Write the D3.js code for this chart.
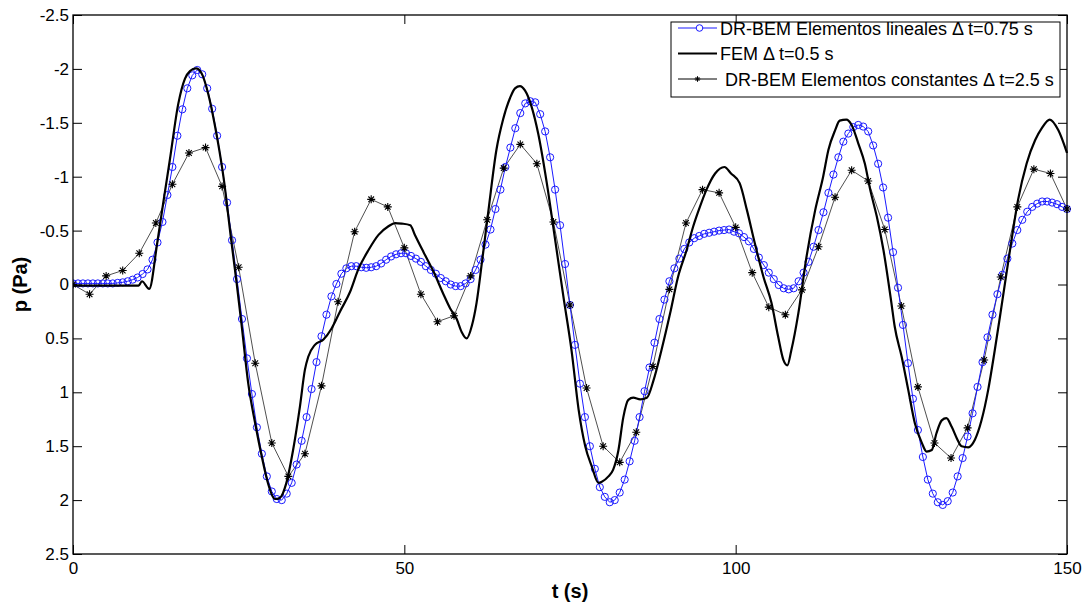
<!DOCTYPE html>
<html>
<head>
<meta charset="utf-8">
<script src="https://cdn.jsdelivr.net/npm/d3@7"></script>
<style>
  html, body { margin: 0; padding: 0; background: #ffffff; }
  svg { display: block; }
</style>
</head>
<body>
<div id="chart"></div>
<script>
// ---------------- DATA ----------------
const xTicks = [0, 50, 100, 150];
const yTicks = [-2.5, -2, -1.5, -1, -0.5, 0, 0.5, 1, 1.5, 2, 2.5];

const legendLabels = [
  "DR-BEM Elementos lineales \u0394 t=0.75 s",
  "FEM \u0394 t=0.5 s",
  " DR-BEM Elementos constantes \u0394 t=2.5 s"
];

// DR-BEM linear elements, sampled every 0.75 s (t = 0 ... 150)
const blueDt = 0.75;
const blueP = [
  -0.01, -0.01, -0.01, -0.01, -0.01, -0.01, -0.01, -0.01, -0.01, -0.015,
  -0.02, -0.03, -0.045, -0.065, -0.097, -0.14, -0.23, -0.39, -0.58, -0.83,
  -1.09, -1.38, -1.625, -1.82, -1.94, -1.99, -1.95, -1.82, -1.63, -1.38,
  -1.09, -0.76, -0.41, -0.05, 0.32, 0.685, 1.016, 1.325, 1.57, 1.78,
  1.92, 1.99, 2.0, 1.94, 1.84, 1.67, 1.45, 1.23, 0.97, 0.72,
  0.48, 0.28, 0.11, -0.005, -0.10, -0.15, -0.17, -0.17, -0.16, -0.155,
  -0.16, -0.17, -0.195, -0.23, -0.26, -0.28, -0.29, -0.29, -0.265, -0.24,
  -0.21, -0.17, -0.135, -0.10, -0.06, -0.03, 0.0, 0.015, 0.015, -0.01,
  -0.05, -0.135, -0.23, -0.37, -0.51, -0.70, -0.88, -1.09, -1.27, -1.45,
  -1.59, -1.68, -1.70, -1.69, -1.58, -1.42, -1.18, -0.88, -0.55, -0.19,
  0.19, 0.56, 0.92, 1.23, 1.50, 1.71, 1.88, 1.97, 2.02, 2.0,
  1.93, 1.81, 1.64, 1.45, 1.23, 0.99, 0.77, 0.54, 0.32, 0.14,
  -0.03, -0.15, -0.24, -0.33, -0.39, -0.43, -0.45, -0.47, -0.48, -0.49,
  -0.50, -0.505, -0.51, -0.49, -0.475, -0.44, -0.40, -0.33, -0.25, -0.18,
  -0.11, -0.05, 0.005, 0.035, 0.045, 0.035, -0.03, -0.11, -0.21, -0.35,
  -0.505, -0.67, -0.85, -1.02, -1.18, -1.325, -1.40, -1.46, -1.48, -1.465,
  -1.42, -1.29, -1.12, -0.90, -0.62, -0.30, 0.03, 0.375, 0.73, 1.06,
  1.35, 1.60, 1.81, 1.94, 2.02, 2.045, 2.01, 1.93, 1.78, 1.61,
  1.41, 1.195, 0.95, 0.72, 0.49, 0.28, 0.09, -0.09, -0.24, -0.38,
  -0.505, -0.60, -0.675, -0.72, -0.75, -0.77, -0.77, -0.76, -0.745, -0.72,
  -0.70
];

// FEM (read at key points of the curve)
const femT = [
  0, 5, 9.9, 10.4, 11.5, 12.7, 13.6, 14.6, 15.9, 16.9,
  17.65, 18.56, 19.4, 20.4, 21.4, 22.7, 23.9, 24.7, 25.45, 26.45,
  27.5, 28.5, 29.5, 30.5, 31.2, 32.2, 33.2, 34.25, 35.0, 35.5,
  36.5, 37.8, 39.0, 40.3, 41.8, 43.05, 44.6, 46.1, 47.6, 48.6,
  49.6, 50.9, 51.6, 52.9, 54.4, 55.9, 56.9, 57.9, 58.65, 59.4,
  60.2, 60.9, 61.7, 62.7, 63.9, 64.9, 65.95, 66.7, 67.45, 68.2,
  69.2, 70.2, 71.5, 72.7, 74.0, 75.25, 76.3, 77.3, 78.3, 79.3,
  79.8, 80.8, 81.5, 82.3, 83.05, 83.8, 84.55, 85.6, 86.6, 87.6,
  88.8, 90.1, 91.3, 92.6, 93.6, 94.6, 95.6, 96.9, 98.3, 99.3,
  100.6, 101.7, 102.9, 104.2, 105.4, 106.4, 107.2, 107.8, 108.4, 109.45,
  110.7, 112.0, 113.2, 114.0, 115.0, 115.7, 116.7, 117.5, 118.5, 119.5,
  120.3, 121.3, 122.3, 123.5, 124.0, 125.05, 126.05, 127.05, 128.1, 128.8,
  129.6, 130.3, 131.1, 131.8, 132.6, 133.4, 134.1, 135.1, 136.1, 137.1,
  138.1, 139.1, 140.1, 141.4, 142.6, 143.9, 145.2, 146.2, 147.4, 148.7,
  150
];
const femP = [
  0.01, 0.01, 0.01, -0.03, 0.04, -0.38, -0.75, -1.15, -1.68, -1.91,
  -1.98, -2.005, -1.96, -1.77, -1.48, -1.0, -0.40, -0.01, 0.38, 0.92,
  1.29, 1.60, 1.86, 1.99, 1.98, 1.84, 1.54, 1.13, 0.79, 0.67,
  0.56, 0.51, 0.41, 0.25, 0.07, -0.14, -0.32, -0.46, -0.54, -0.57,
  -0.565, -0.55, -0.46, -0.30, -0.12, 0.09, 0.22, 0.32, 0.44, 0.50,
  0.38, 0.17, -0.2, -0.69, -1.25, -1.53, -1.73, -1.82, -1.84, -1.80,
  -1.65, -1.40, -0.94, -0.44, 0.11, 0.62, 1.16, 1.50, 1.69, 1.84,
  1.83, 1.78, 1.72, 1.54, 1.23, 1.07, 1.05, 1.065, 1.05, 0.89,
  0.61, 0.27, -0.07, -0.32, -0.54, -0.72, -0.88, -1.03, -1.09, -1.03,
  -0.94, -0.69, -0.38, -0.07, 0.17, 0.48, 0.70, 0.75, 0.61, 0.27,
  -0.26, -0.69, -1.0, -1.25, -1.43, -1.52, -1.53, -1.48, -1.31, -1.12,
  -0.88, -0.63, -0.32, 0.17, 0.39, 0.67, 0.98, 1.29, 1.47, 1.55,
  1.535, 1.38, 1.26, 1.24, 1.32, 1.43, 1.50, 1.51, 1.44, 1.26,
  0.98, 0.61, 0.21, -0.32, -0.78, -1.12, -1.34, -1.45, -1.53, -1.43,
  -1.22
];

// DR-BEM constant elements, sampled every 2.5 s (t = 0 ... 150)
const starDt = 2.5;
const starP = [
  0.0, 0.09, -0.08, -0.13, -0.29, -0.57, -0.93, -1.22, -1.27, -0.91,
  -0.16, 0.73, 1.47, 1.78, 1.57, 0.94, 0.16, -0.49, -0.79, -0.72,
  -0.34, 0.09, 0.345, 0.29, -0.08, -0.60, -1.08, -1.30, -1.12, -0.58,
  0.19, 0.96, 1.50, 1.65, 1.37, 0.76, 0.045, -0.57, -0.88, -0.85,
  -0.53, -0.11, 0.21, 0.28, 0.05, -0.35, -0.81, -1.06, -0.96, -0.51,
  0.20, 0.95, 1.47, 1.61, 1.33, 0.70, -0.07, -0.72, -1.07, -1.03,
  -0.70
];

// ---------------- CHART ----------------
const W = 1088, H = 605;
const plot = { left: 73, right: 1067, top: 15, bottom: 554 };
const FONT = "Arial, 'Liberation Sans', Helvetica, sans-serif";
const BLUE = "#1a1aff";

const svg = d3.select("#chart").append("svg")
  .attr("width", W).attr("height", H)
  .style("font-family", FONT);

const x = d3.scaleLinear().domain([0, 150]).range([plot.left, plot.right]);
const y = d3.scaleLinear().domain([-2.5, 2.5]).range([plot.top, plot.bottom]);

const blueData = blueP.map((p, i) => ({ t: i * blueDt, p }));
const femData = femT.map((t, i) => ({ t, p: femP[i] }));
const starData = starP.map((p, i) => ({ t: i * starDt, p }));

// plot background
svg.append("rect")
  .attr("x", plot.left).attr("y", plot.top)
  .attr("width", plot.right - plot.left).attr("height", plot.bottom - plot.top)
  .attr("fill", "#ffffff");

const clip = svg.append("clipPath").attr("id", "clip")
  .append("rect")
  .attr("x", plot.left).attr("y", plot.top - 5)
  .attr("width", plot.right - plot.left + 5).attr("height", plot.bottom - plot.top + 10);

const g = svg.append("g").attr("clip-path", "url(#clip)");

// star series line
const lineStraight = d3.line().x(d => x(d.t)).y(d => y(d.p));
g.append("path").datum(starData)
  .attr("d", lineStraight)
  .attr("fill", "none").attr("stroke", "#505050").attr("stroke-width", 1);

// blue series line
g.append("path").datum(blueData)
  .attr("d", lineStraight)
  .attr("fill", "none").attr("stroke", BLUE).attr("stroke-width", 1);

// blue circles
g.selectAll("circle.blue").data(blueData).enter().append("circle")
  .attr("class", "blue")
  .attr("cx", d => x(d.t)).attr("cy", d => y(d.p)).attr("r", 3.6)
  .attr("fill", "none").attr("stroke", BLUE).attr("stroke-width", 1);

// FEM line
const lineSmooth = d3.line().x(d => x(d.t)).y(d => y(d.p)).curve(d3.curveMonotoneX);
g.append("path").datum(femData)
  .attr("d", lineSmooth)
  .attr("fill", "none").attr("stroke", "#000000").attr("stroke-width", 2.2)
  .attr("stroke-linejoin", "round");

// star markers
function starPath(cx, cy, s) {
  const d = s * 0.7071;
  return `M${cx - s},${cy}L${cx + s},${cy}M${cx},${cy - s}L${cx},${cy + s}` +
         `M${cx - d},${cy - d}L${cx + d},${cy + d}M${cx - d},${cy + d}L${cx + d},${cy - d}`;
}
g.selectAll("path.star").data(starData).enter().append("path")
  .attr("class", "star")
  .attr("d", d => starPath(x(d.t), y(d.p), 4))
  .attr("fill", "none").attr("stroke", "#000000").attr("stroke-width", 1.1);

// axes (ticks inward on all sides)
const fmt = d => String(d);
const axB = svg.append("g").attr("transform", `translate(0,${plot.bottom})`)
  .call(d3.axisBottom(x).tickValues(xTicks).tickSizeInner(-9).tickSizeOuter(0).tickPadding(8).tickFormat(fmt));
const axT = svg.append("g").attr("transform", `translate(0,${plot.top})`)
  .call(d3.axisTop(x).tickValues(xTicks).tickSizeInner(-9).tickSizeOuter(0).tickFormat(""));
const axL = svg.append("g").attr("transform", `translate(${plot.left},0)`)
  .call(d3.axisLeft(y).tickValues(yTicks).tickSizeInner(-9).tickSizeOuter(0).tickPadding(4).tickFormat(fmt));
const axR = svg.append("g").attr("transform", `translate(${plot.right},0)`)
  .call(d3.axisRight(y).tickValues(yTicks).tickSizeInner(-9).tickSizeOuter(0).tickFormat(""));

[axB, axT, axL, axR].forEach(a => {
  a.select(".domain").remove();
  a.selectAll(".tick line").attr("stroke", "#000").attr("stroke-width", 1);
  a.selectAll(".tick text").attr("fill", "#000")
    .style("font-size", "17px").style("font-family", FONT);
});

// box
svg.append("rect")
  .attr("x", plot.left).attr("y", plot.top)
  .attr("width", plot.right - plot.left).attr("height", plot.bottom - plot.top)
  .attr("fill", "none").attr("stroke", "#000").attr("stroke-width", 1.3);

// axis titles
svg.append("text")
  .attr("x", (plot.left + plot.right) / 2).attr("y", 598)
  .attr("text-anchor", "middle")
  .style("font-size", "20px").style("font-weight", "bold")
  .text("t (s)");

svg.append("text")
  .attr("transform", `translate(27,${(plot.top + plot.bottom) / 2}) rotate(-90)`)
  .attr("text-anchor", "middle")
  .style("font-size", "20px").style("font-weight", "bold")
  .text("p (Pa)");

// legend
const lg = svg.append("g");
lg.append("rect")
  .attr("x", 671).attr("y", 22).attr("width", 389).attr("height", 75)
  .attr("fill", "#fff").attr("stroke", "#000").attr("stroke-width", 1);

const rowsY = [28, 53.5, 79];
const lx1 = 678, lx2 = 717;
// row 1
lg.append("line").attr("x1", lx1).attr("x2", lx2).attr("y1", rowsY[0]).attr("y2", rowsY[0])
  .attr("stroke", BLUE).attr("stroke-width", 1);
lg.append("circle").attr("cx", (lx1 + lx2) / 2 + 2).attr("cy", rowsY[0]).attr("r", 3.3)
  .attr("fill", "#fff").attr("stroke", BLUE).attr("stroke-width", 1);
// row 2
lg.append("line").attr("x1", lx1).attr("x2", lx2).attr("y1", rowsY[1]).attr("y2", rowsY[1])
  .attr("stroke", "#000").attr("stroke-width", 2);
// row 3
lg.append("line").attr("x1", lx1).attr("x2", lx2).attr("y1", rowsY[2]).attr("y2", rowsY[2])
  .attr("stroke", "#000").attr("stroke-width", 1);
lg.append("path").attr("d", starPath((lx1 + lx2) / 2, rowsY[2], 2.8))
  .attr("stroke", "#000").attr("stroke-width", 1).attr("fill", "none");

legendLabels.forEach((txt, i) => {
  lg.append("text")
    .attr("x", 720).attr("y", rowsY[i] + 6.5)
    .attr("xml:space", "preserve")
    .style("white-space", "pre")
    .style("font-size", "18px")
    .attr("fill", "#000")
    .text(txt);
});
</script>
</body>
</html>
